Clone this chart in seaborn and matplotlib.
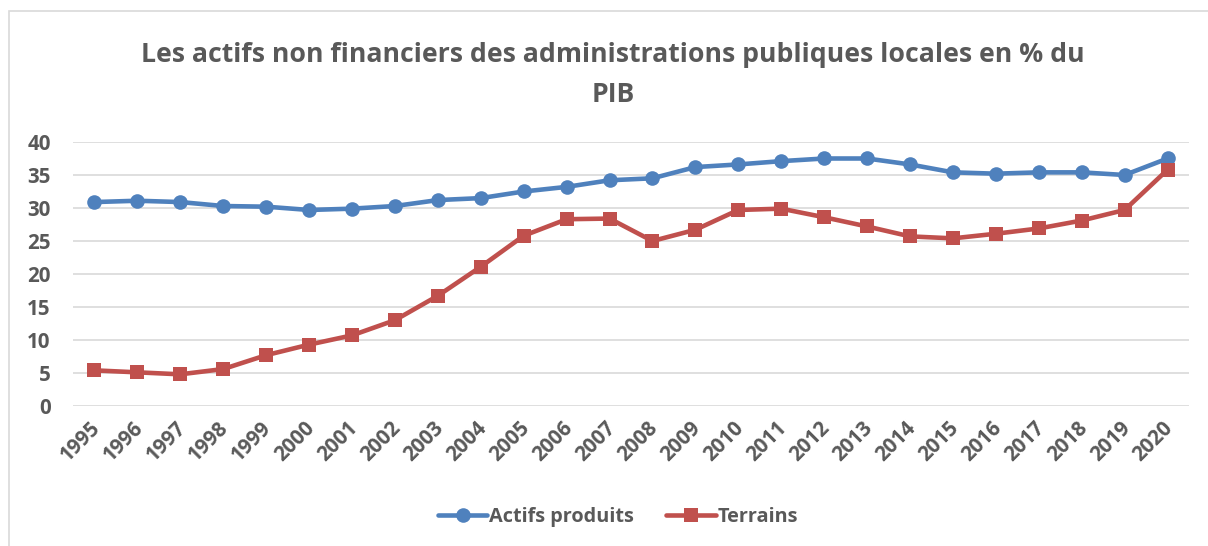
from matplotlib import pyplot as plt
from matplotlib.patches import Rectangle
import matplotlib.transforms as mtransforms
import seaborn as sns
import pandas as pd

years = list(range(1995, 2021))
actifs_produits = [30.9, 31.1, 30.9, 30.3, 30.2, 29.7, 29.9, 30.3, 31.2, 31.5,
                   32.5, 33.2, 34.2, 34.5, 36.2, 36.6, 37.1, 37.5, 37.5, 36.6,
                   35.4, 35.2, 35.4, 35.4, 35.0, 37.5]
terrains = [5.4, 5.1, 4.8, 5.6, 7.7, 9.3, 10.7, 13.0, 16.7, 21.1,
            25.8, 28.3, 28.4, 25.0, 26.7, 29.7, 29.9, 28.6, 27.2, 25.7,
            25.4, 26.1, 26.9, 28.1, 29.7, 35.8]
title = "Les actifs non financiers des administrations publiques locales en % du\nPIB"

df = pd.DataFrame({"Annee": years, "Actifs produits": actifs_produits, "Terrains": terrains})

sns.set_style("white")
plt.rcParams["font.family"] = ["Open Sans", "DejaVu Sans"]
text_color = "#595959"

fig = plt.figure(figsize=(12.08, 5.46), dpi=100)
ax = fig.add_axes([73 / 1208, 1 - 406 / 546, (1189 - 73) / 1208, 264 / 546])

sns.lineplot(data=df, x="Annee", y="Actifs produits", ax=ax, color="#4F81BD",
             linewidth=3.3, marker="o", markersize=10.5, markeredgewidth=0,
             label="Actifs produits")
sns.lineplot(data=df, x="Annee", y="Terrains", ax=ax, color="#C0504D",
             linewidth=3.3, marker="s", markersize=10, markeredgewidth=0,
             label="Terrains")

ax.set_xlim(1994.5, 2020.5)
ax.set_ylim(0, 40)
ax.set_yticks(range(0, 41, 5))
ax.set_xticks(years)
ax.set_xticklabels([str(y) for y in years], rotation=45, ha="right",
                   rotation_mode="anchor")
ax.yaxis.grid(True, color="#D9D9D9", linewidth=1.2)
ax.set_axisbelow(True)
for s in ax.spines.values():
    s.set_visible(False)
ax.tick_params(axis="both", length=0, labelsize=14.8, labelcolor=text_color)
ax.tick_params(axis="y", pad=16)
ax.tick_params(axis="x", pad=5)
shift = mtransforms.ScaledTranslation(-0.05, -0.05, fig.dpi_scale_trans)
for lbl in ax.get_xticklabels():
    lbl.set_transform(lbl.get_transform() + shift)
for lbl in ax.get_xticklabels() + ax.get_yticklabels():
    lbl.set_fontweight("bold")
ax.set_xlabel("")
ax.set_ylabel("")

fig.text(613 / 1208, 1 - 75 / 546, title, ha="center", va="center",
         fontsize=19.2, fontweight="bold", color=text_color, linespacing=1.75)

leg = ax.legend(loc="center", bbox_to_anchor=(618 / 1208, 1 - 517 / 546),
                bbox_transform=fig.transFigure, ncol=2, frameon=False,
                handlelength=2.5, handletextpad=0.1, columnspacing=1.6,
                prop={"size": 14.3, "weight": "bold"})
for t in leg.get_texts():
    t.set_color(text_color)

fig.patches.append(Rectangle((9 / 1208, -0.1), 1.2, (1 - 11 / 546) + 0.1,
                             transform=fig.transFigure, fill=False,
                             edgecolor="#D9D9D9", linewidth=1.2))

fig.savefig("out.png", dpi=100)
